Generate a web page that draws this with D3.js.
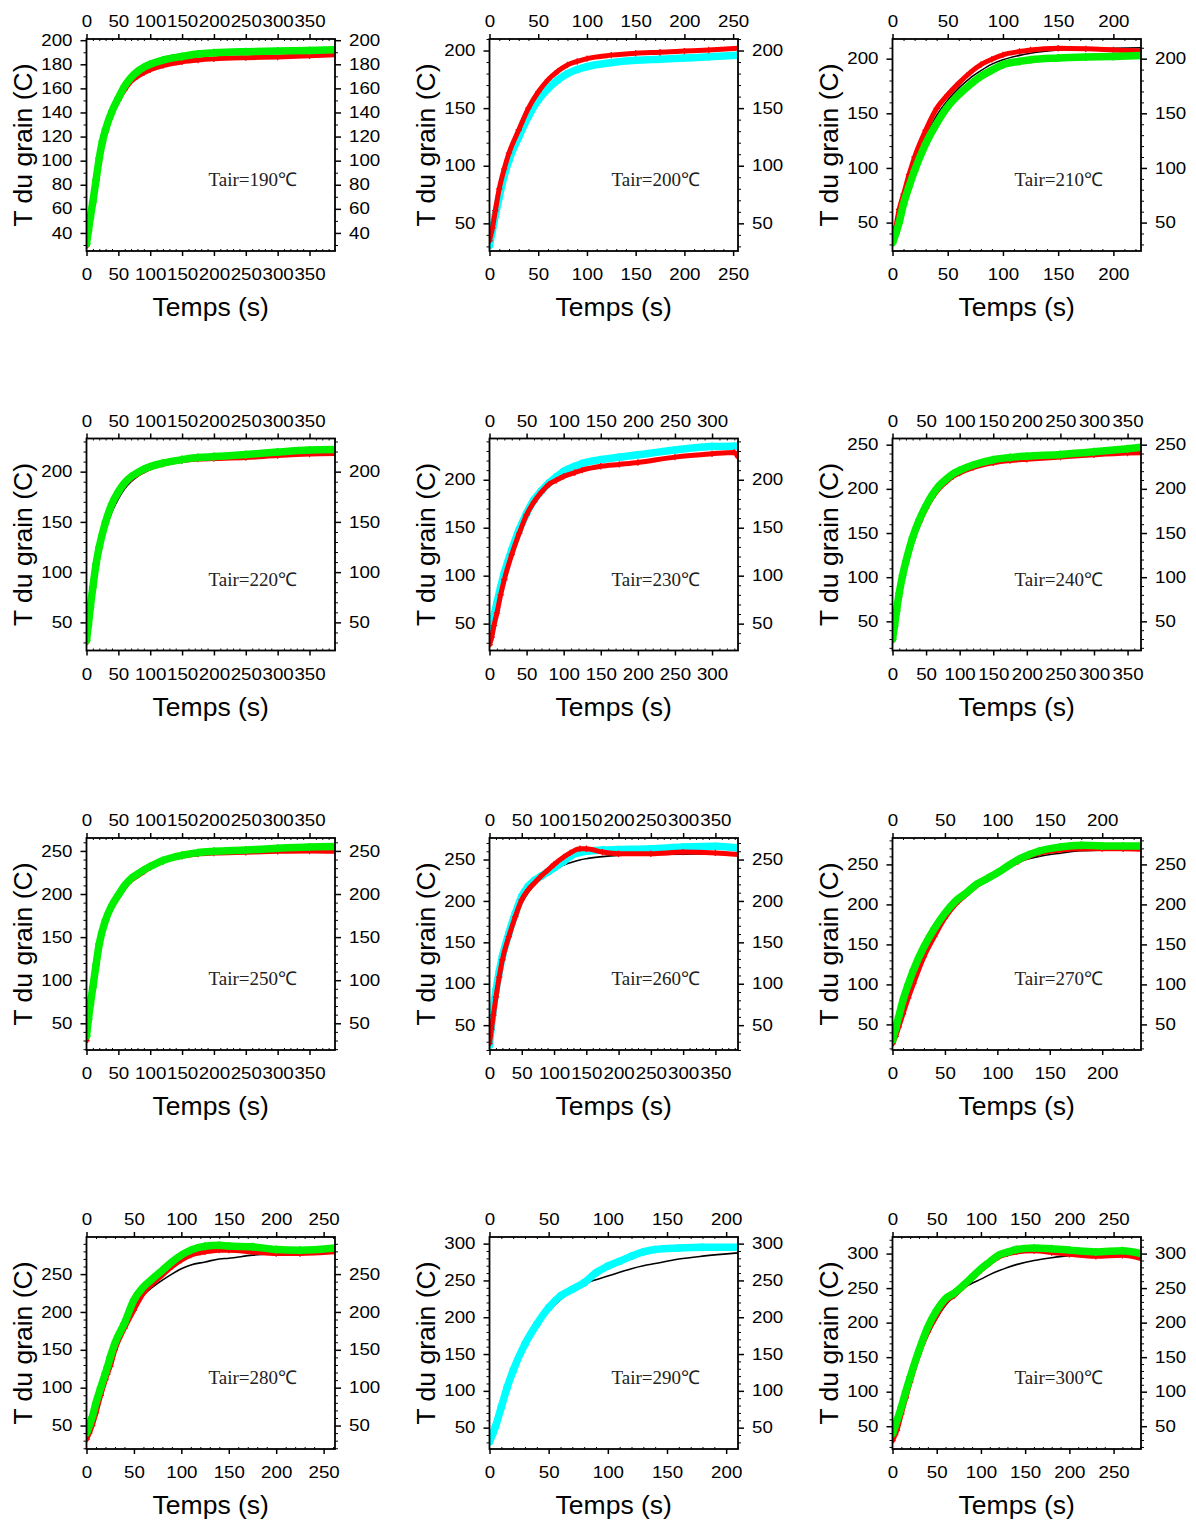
<!DOCTYPE html>
<html><head><meta charset="utf-8">
<script src="https://cdn.jsdelivr.net/npm/d3@7"></script>
<style>body{margin:0;background:#fff} svg{display:block}</style>
</head><body>
<svg id="c" width="1196" height="1521"></svg>
<script>
// ---------- panel settings (data) ----------
const airTemps   = [190, 200, 210, 220, 230, 240, 250, 260, 270, 280, 290, 300];
const xMaxes     = [390, 255, 225, 390, 335, 370, 390, 385, 237, 262, 210, 281];
const yMins      = [25, 26, 24, 22, 22, 17, 19, 20, 18, 19, 21, 17];
const yMaxes     = [201, 210, 218, 233, 243, 257, 265, 276, 283, 299, 309, 324];
const yTickSteps = [20, 50, 50, 50, 50, 50, 50, 50, 50, 50, 50, 50];
const xTickStep  = 50;
const secondKinds = ["green","cyan","green","green","cyan","green","green","cyan","green","green","cyan","green"];
const xLabel = "Temps (s)";
const yLabel = "T du grain (C)";

// ---------- series ----------
const t190 = [0,3,6,10,15,20,25,30,40,50,60,70,80,90,100,120,150,175,200,250,300,350,390];
const red190 = [29,40,52,65,83,100,114,124,139,150,159,166,170,173,175.5,179,182,183.5,184.5,185.5,186,187,188];
const sec190 = [31,42,53,66,84,102,116,126,141,152,162,169,174,177.5,180,183.5,186.5,188.5,189.5,190.5,191,191.5,192];
const mod190 = [30,41,52,66,84,101,115,126,142,154,163,170,175,179,182,185.5,188.5,189.5,190.5,191.5,192,192,192];

const t200 = [0,3,6,10,15,20,30,40,50,60,70,80,90,100,125,150,175,200,225,255];
const red200 = [35,46,61,80,97,111,131,150,164,174.5,182,187.5,190.5,193,196,197.7,198.5,199.5,200.5,202];
const sec200 = [31,44,57,73,91,105,125,143,157,167,174.5,180,183.5,186,189.5,191.5,192.5,193.5,194.5,196];
const mod200 = [30,45,59,76,93,106,127,144,158,168,175.5,181,184.5,187,190.5,192.5,193.5,194.5,195.5,197];

const t210 = [0,3,6,10,15,20,30,40,50,60,70,80,90,100,115,125,150,175,200,225];
const red210 = [33,46,62,76,94,110,134.5,154.5,167,177.6,187,194.5,199.5,203.5,206.5,208,209.5,209,208,207];
const sec210 = [31.5,40,50,67,83,97.6,122,140.7,156,167,176,183.7,189.5,194.5,197.5,199,200.6,201.5,202,202.8];
const mod210 = [35,46,58,72,89,104,128,148,162,173,182,189,195,199,203,205,208,209,209.5,210];

const t220 = [0,3,6,10,15,20,30,40,50,60,70,80,90,100,120,150,175,200,250,300,350,390];
const red220 = [30,46,63,83,106,123,148,166,178,187,193,197.5,201,204,207.5,211,212.5,213,214,216,217.5,218];
const sec220 = [32,48,65,85,108,125,150,168,180,189,195,199,202.5,205,208.5,212,214,215,217,219.5,221.5,222];
const mod220 = [32,47,62,80,100,117,142,160,173,183,190,195,199,202,207,211,213,214.5,216,217,218,218.5];

const t230 = [0,3,6,10,15,20,30,40,50,60,70,80,90,100,115,125,150,175,200,250,300,330,335];
const red230 = [28,36,48,61,80,96,122,144,163.5,177,187,195,199.5,203.5,207.5,210,214,216,218,223.6,227,228.5,224];
const sec230 = [33,45,58,71.5,88,103,127,148,165,179,188.5,196.5,203,208.7,214,217,221,223.5,226,231,234.7,235,235];
const mod230 = [35,48,60,75,92,106,130,150,166,179,188.5,196,202,207,213,216,222,225,227,230,232,233,233];

const t240 = [0,3,6,10,15,20,30,40,50,60,70,80,90,100,120,150,175,200,250,300,350,370];
const red240 = [28,42,58,78,99,115,142,162,178,191,201,208,214,218,224,229.5,232,233.5,236,238.5,240.5,241];
const sec240 = [30,45,62,82,102,118,145,165,181,194,204,211,217,221,227,233,235.5,237,239,242,245.5,247];
const mod240 = [30,44,60,80,100,116,143,163,180,193,203,211,217,221.5,228,234,236.5,238,240,241,241.5,242];

const t250 = [0,3,6,10,15,20,30,40,50,60,70,80,90,100,120,150,175,200,250,300,350,390];
const red250 = [30,52,70,90,116,140,168,185,197,208,216,221,226,231,238,244,246.5,247.5,248.5,249.5,250,249.5];
const sec250 = [35,55,72,92,118,142,170,187,199,210,218,223,228,232,239,245,248,249.5,251,253,254.5,255];
const mod250 = [33,52,70,90,115,137,166,185,199,210,219,226,231,235,241,246,248,249.5,250.5,251,251.5,251.5];

const t260 = [0,3,6,10,15,20,30,40,50,60,70,80,90,100,115,125,140,150,175,200,250,300,350,385];
const red260 = [28,45,62,84,108,129,157,181,201.5,213.6,222,230,237,244,253,258,263,263,259,257,257,259,258,256];
const sec260 = [26,50,70,92,114,133,161,185,205.6,217.7,225,230,235,240,248,254,258.5,260,261.5,262,263,265,266,264];
const mod260 = [30,50,67,85,108,128,158,180,197,210,220,228,234,238.5,243.5,246,249.5,251,253.5,255,256,256.5,257,257];

const t270 = [0,3,6,10,15,20,30,40,50,60,70,80,90,100,110,120,130,140,160,180,200,220,237];
const red270 = [26,35,47,63,83,101,134.5,160,183,200,212,223,231,238.7,247,254,260,264,268,269.7,269.7,269.5,269];
const sec270 = [30,45,60,80,100,118,147,170,189,204,214,225,232,239.5,248,256,262,266.8,271.8,274,273,273,273];
const mod270 = [30,47,62,82,103,122,150,173,192,206,217,227,235,242,248,253,257,260,264,267,268,268.5,269];

const t280 = [0,3,6,10,15,20,22,25,30,40,50,60,70,80,90,100,110,125,140,150,175,200,225,262];
const red280 = [31.6,40,50,66.7,90,110.5,118,128,150,178.5,202.6,224.6,237.7,248.7,259.6,268.4,275,279.4,281.6,281.6,279.4,277.2,277.2,279.4];
const sec280 = [40,50,61,80,100,119.3,127,140,158.8,185,215.8,233,244.3,255,266,275,281.6,286.8,288,287,286,282.5,281.6,284.6];
const mod280 = [38,52,65,85,106,125,132,142,158,185,205,222,233,242,250,257,262,266,270,271,275,277,277.5,278];

const t290 = [0,3,5,10,15,20,30,40,50,60,70,80,90,100,110,120,130,140,160,180,210];
const red290 = null;
const sec290 = [31,43,51.4,78.3,105,127.8,163.8,190.7,213,229,238,247,260.4,269.4,276,283,288.8,292,294,295,295];
const mod290 = [35,50,60,85,106,125,158,186,208,224,236,245,251,256,261,266,270,273,279,283,287.5];

const t300 = [0,3,5,10,15,20,30,40,50,60,70,80,90,100,110,120,130,140,160,180,200,230,260,281];
const red300 = [29,38,44,68,91,114,155,186.4,210.5,230,239.6,251.6,264,275.8,286,295,299.5,302.4,304,301.5,299,296,297.6,292.7];
const sec300 = [39,50,58,77.5,100,121,160,193.6,218,234.7,243,254,266,278,288,297.6,302,305.8,308,307,305,302.4,304,300];
const mod300 = [38,50,58,78,99,118,153,182,206,225,239,250,257,263,269.5,275,280,284,290,294,297,298.5,299,299];

const times  = [t190,t200,t210,t220,t230,t240,t250,t260,t270,t280,t290,t300];
const reds   = [red190,red200,red210,red220,red230,red240,red250,red260,red270,red280,red290,red300];
const secs   = [sec190,sec200,sec210,sec220,sec230,sec240,sec250,sec260,sec270,sec280,sec290,sec300];
const models = [mod190,mod200,mod210,mod220,mod230,mod240,mod250,mod260,mod270,mod280,mod290,mod300];

// ---------- layout ----------
const colLeft = [86.5, 489.5, 892.5];
const rowTop = [39, 438.5, 838, 1237];
const PW = 248.5, PH = 212;
const COLORS = {red:"#ff0000", green:"#00f000", cyan:"#00ffff"};
const sansFont = "'Liberation Sans', Arial, Helvetica, sans-serif";
const TICK_FS = 16, TICK_SX = 1.17;

const svg = d3.select("#c");

airTemps.forEach((tair, i) => {
  const r = Math.floor(i / 3), c = i % 3;
  const g = svg.append("g").attr("transform", `translate(${colLeft[c]},${rowTop[r]})`);
  const x = d3.scaleLinear().domain([0, xMaxes[i]]).range([0, PW]);
  const y = d3.scaleLinear().domain([yMins[i], yMaxes[i]]).range([PH, 0]);

  const xt = d3.range(0, xMaxes[i] + 0.01, xTickStep);
  const ys = yTickSteps[i];
  const yt = d3.range(Math.ceil(yMins[i] / ys) * ys, yMaxes[i] + 0.01, ys);
  const ymt = d3.range(Math.ceil(yMins[i] / 10) * 10, yMaxes[i] + 0.01, 10).filter(v => !yt.includes(v));
  const xmt = d3.range(0, xMaxes[i] + 0.01, 10).filter(v => !xt.includes(v));

  const cid = "clip" + i;
  g.append("clipPath").attr("id", cid).append("rect").attr("width", PW).attr("height", PH);
  const plot = g.append("g").attr("clip-path", `url(#${cid})`);

  const t = times[i];
  const line = d3.line().x(d => x(d[0])).y(d => y(d[1])).curve(d3.curveMonotoneX);
  const pts = arr => t.map((tt, k) => [tt, arr[k]]);

  function drawSeries(arr, kind) {
    const col = COLORS[kind];
    const p = pts(arr);
    const w = kind === "red" ? 5 : 7.5;
    plot.append("path").datum(p).attr("d", line).attr("fill", "none")
      .attr("stroke", col).attr("stroke-width", w).attr("stroke-linejoin", "round").attr("stroke-linecap", "round");
    if (kind === "cyan") {
      plot.append("g").selectAll("circle").data(p).join("circle")
        .attr("cx", d => x(d[0])).attr("cy", d => y(d[1])).attr("r", 3.2)
        .attr("fill", "none").attr("stroke", col).attr("stroke-width", 1.3);
    } else {
      const s = kind === "red" ? 3.2 : 4;
      plot.append("g").selectAll("path").data(p).join("path")
        .attr("d", d => `M${x(d[0]) - s},${y(d[1])}H${x(d[0]) + s}M${x(d[0])},${y(d[1]) - s}V${y(d[1]) + s}`)
        .attr("stroke", col).attr("stroke-width", kind === "red" ? 1.3 : 1.8);
    }
  }

  plot.append("path").datum(pts(models[i])).attr("d", line).attr("fill", "none")
    .attr("stroke", "#000").attr("stroke-width", 1.6);
  const kind = secondKinds[i];
  if (kind === "cyan") {
    drawSeries(secs[i], "cyan");
    if (reds[i]) drawSeries(reds[i], "red");
  } else {
    if (reds[i]) drawSeries(reds[i], "red");
    drawSeries(secs[i], "green");
  }

  const styleAxis = sel => {
    sel.select(".domain").remove();
    sel.selectAll("line").attr("stroke", "#000").attr("stroke-width", 1.5);
    sel.selectAll("text").attr("font-family", sansFont).attr("font-size", TICK_FS).attr("fill", "#000")
      .each(function() {
        const el = d3.select(this);
        const x0 = +el.attr("x") || 0;
        el.attr("x", x0 / TICK_SX).attr("transform", `scale(${TICK_SX},1)`);
      });
  };
  const minorStyle = sel => {
    sel.select(".domain").remove();
    sel.selectAll("line").attr("stroke", "#000").attr("stroke-width", 1);
    sel.selectAll("text").remove();
  };
  g.append("g").call(d3.axisTop(x).tickValues(xt).tickFormat(d3.format("d")).tickSize(5).tickPadding(7)).call(styleAxis);
  g.append("g").attr("transform", `translate(0,${PH})`)
    .call(d3.axisBottom(x).tickValues(xt).tickFormat(d3.format("d")).tickSize(5).tickPadding(13)).call(styleAxis);
  g.append("g").call(d3.axisLeft(y).tickValues(yt).tickFormat(d3.format("d")).tickSize(6).tickPadding(8)).call(styleAxis);
  g.append("g").attr("transform", `translate(${PW},0)`)
    .call(d3.axisRight(y).tickValues(yt).tickFormat(d3.format("d")).tickSize(6).tickPadding(8)).call(styleAxis);
  g.append("g").call(d3.axisLeft(y).tickValues(ymt).tickSize(3)).call(minorStyle);
  g.append("g").attr("transform", `translate(${PW},0)`).call(d3.axisRight(y).tickValues(ymt).tickSize(3)).call(minorStyle);
  g.append("g").call(d3.axisBottom(x).tickValues(xmt).tickSize(2)).call(minorStyle);
  g.append("g").attr("transform", `translate(0,${PH})`).call(d3.axisTop(x).tickValues(xmt).tickSize(2)).call(minorStyle);

  g.append("rect").attr("width", PW).attr("height", PH).attr("fill", "none")
    .attr("stroke", "#000").attr("stroke-width", 1.8);

  g.append("text").attr("x", PW / 2).attr("y", PH + 65).attr("text-anchor", "middle")
    .attr("font-family", sansFont).attr("font-size", 26.5).attr("fill", "#000").text(xLabel);
  g.append("text").attr("transform", `translate(-55,${PH / 2}) rotate(-90)`).attr("text-anchor", "middle")
    .attr("font-family", sansFont).attr("font-size", 26.5).attr("fill", "#000").text(yLabel);
  g.append("text").attr("x", 122).attr("y", 147)
    .attr("font-family", "'Liberation Serif', 'Times New Roman', serif").attr("font-size", 19).attr("fill", "#222")
    .text(`Tair=${tair}℃`);
});
</script>
</body></html>
